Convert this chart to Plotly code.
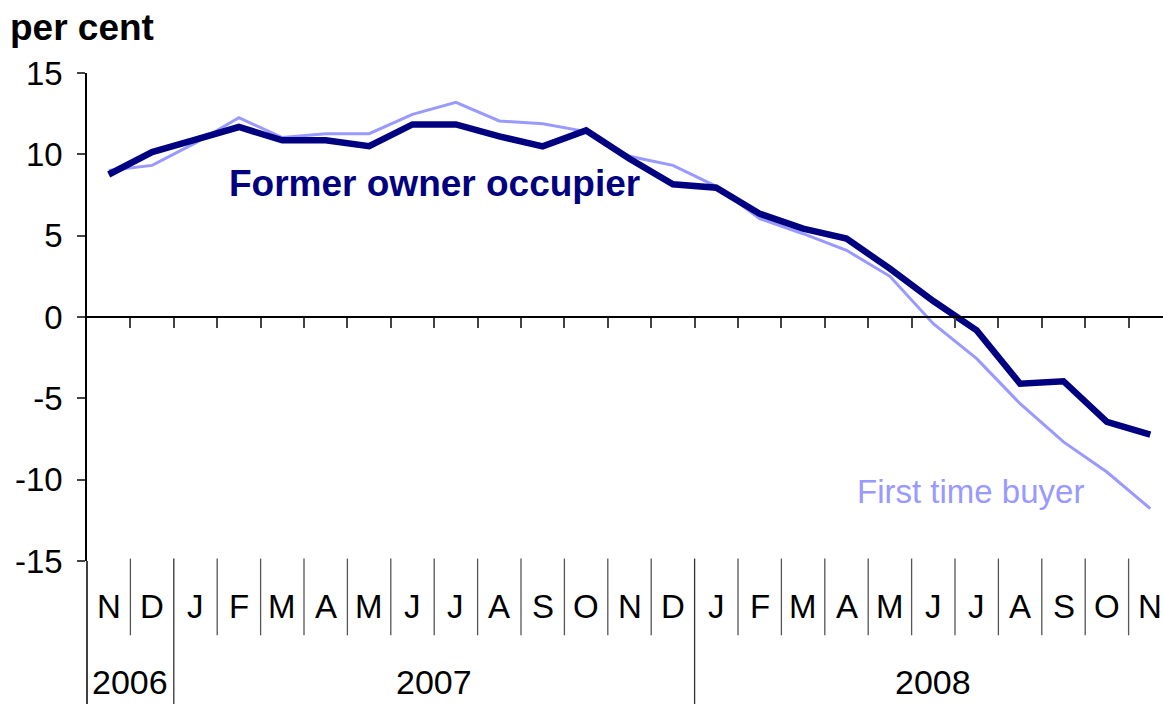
import plotly.graph_objects as go

months = ["N", "D", "J", "F", "M", "A", "M", "J", "J", "A", "S", "O",
          "N", "D", "J", "F", "M", "A", "M", "J", "J", "A", "S", "O", "N"]
years = ["2006", "2007", "2008"]
year_spans = [(0, 1), (2, 13), (14, 24)]  # first and last month index for each year

former_owner = [8.76, 10.14, 10.9, 11.68, 10.86, 10.86, 10.5, 11.84, 11.84, 11.1, 10.49, 11.47,
                9.73, 8.16, 7.95, 6.35, 5.43, 4.82, 2.97, 0.98, -0.82, -4.1, -3.95, -6.45, -7.23]
first_time = [9.0, 9.32, 10.7, 12.25, 11.03, 11.27, 11.27, 12.46, 13.2, 12.05, 11.88, 11.4,
              9.88, 9.32, 8.03, 6.05, 5.12, 4.1, 2.5, -0.41, -2.56, -5.33, -7.68, -9.53, -11.78]

y_ticks = [15, 10, 5, 0, -5, -10, -15]

FONT = "Liberation Sans, Arial, sans-serif"
NAVY = "#000080"
LIGHT = "#9999FF"

x = list(range(len(months)))

fig = go.Figure()
fig.add_trace(go.Scatter(x=x, y=first_time, mode="lines",
                         line=dict(color=LIGHT, width=3), showlegend=False))
fig.add_trace(go.Scatter(x=x, y=former_owner, mode="lines",
                         line=dict(color=NAVY, width=6.5), showlegend=False))

W, H = 1163, 704
L, T, B = 87, 72.7, 143.3
plot_w = W - L
cat_w = 43.4
x_max = -0.5 + plot_w / cat_w

fig.update_layout(
    width=W, height=H,
    margin=dict(l=L, r=0, t=T, b=B, autoexpand=False),
    plot_bgcolor="white", paper_bgcolor="white",
    font=dict(family=FONT, color="black"),
    xaxis=dict(
        range=[-0.5, x_max], anchor="free", position=0.5,
        showline=True, linecolor="black", linewidth=1.5,
        ticks="outside", tickvals=[i - 0.5 for i in range(1, len(months))],
        ticklen=10, tickcolor="#444", tickwidth=1.5,
        showticklabels=False, showgrid=False, zeroline=False,
        automargin=False,
    ),
    yaxis=dict(
        range=[-15, 15], tickvals=y_ticks, ticktext=[str(v) for v in y_ticks],
        showline=True, linecolor="black", linewidth=1.5,
        ticks="outside", ticklen=8, tickcolor="#444", tickwidth=1.5,
        tickfont=dict(size=33, family=FONT, color="black"),
        ticklabelstandoff=8,
        showgrid=False, zeroline=False, automargin=False,
    ),
)

# month labels and separators below the plot
plot_h = H - T - B
def py(pix):
    return (H - B - pix) / plot_h

def px(pix):
    return (pix - L) / plot_w

for i, m in enumerate(months):
    fig.add_annotation(x=i, y=py(606.5), xref="x", yref="paper", text=m,
                       showarrow=False, font=dict(size=33, family=FONT, color="black"),
                       xanchor="center", yanchor="middle")

year_starts = [s for s, e in year_spans]
for i in range(1, len(months)):
    long = i in year_starts
    fig.add_shape(type="line", xref="x", yref="paper",
                  x0=i - 0.5, x1=i - 0.5, y0=0.005,
                  y1=py(704) if long else py(635),
                  line=dict(color="#333" if long else "#555", width=1.3))
# left axis extension
fig.add_shape(type="line", xref="paper", yref="paper", x0=0, x1=0, y0=0,
              y1=py(704), line=dict(color="black", width=1.5))

for yr, (s, e) in zip(years, year_spans):
    fig.add_annotation(x=(s + e) / 2, y=py(682), xref="x", yref="paper", text=yr,
                       showarrow=False, font=dict(size=34, family=FONT, color="black"),
                       xanchor="center", yanchor="middle")

fig.add_annotation(x=7.5, y=8.2, xref="x", yref="y", text="<b>Former owner occupier</b>",
                   showarrow=False, font=dict(size=37, family=FONT, color=NAVY),
                   xanchor="center", yanchor="middle")
fig.add_annotation(x=19.85, y=-10.75, xref="x", yref="y", text="First time buyer",
                   showarrow=False, font=dict(size=33, family=FONT, color=LIGHT),
                   xanchor="center", yanchor="middle")
fig.add_annotation(x=px(8), y=py(27), xref="paper", yref="paper", text="<b>per cent</b>",
                   showarrow=False, font=dict(size=37, family=FONT, color="black"),
                   xanchor="left", yanchor="middle")

fig.write_html("out.html")
